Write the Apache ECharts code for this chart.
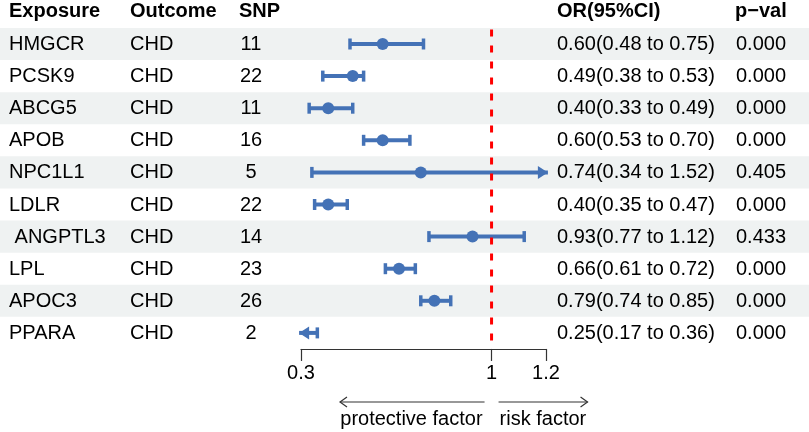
<!DOCTYPE html>
<html>
<head>
<meta charset="utf-8">
<script src="https://cdn.jsdelivr.net/npm/echarts@6/dist/echarts.min.js"></script>
<style>
html,body{margin:0;padding:0;background:#fff;}
#c{width:809px;height:432px;}
</style>
</head>
<body>
<div id="c"></div>
<script>
// ---- data ----
const exposures = ['HMGCR','PCSK9','ABCG5','APOB','NPC1L1','LDLR',' ANGPTL3','LPL','APOC3','PPARA'];
const outcomes  = ['CHD','CHD','CHD','CHD','CHD','CHD','CHD','CHD','CHD','CHD'];
const snps      = [11,22,11,16,5,22,14,23,26,2];
const orEst     = [0.60,0.49,0.40,0.60,0.74,0.40,0.93,0.66,0.79,0.25];
const ciLow     = [0.48,0.38,0.33,0.53,0.34,0.35,0.77,0.61,0.74,0.17];
const ciHigh    = [0.75,0.53,0.49,0.70,1.52,0.47,1.12,0.72,0.85,0.36];
const pvals     = ['0.000','0.000','0.000','0.000','0.405','0.000','0.433','0.000','0.000','0.000'];
const headers   = ['Exposure','Outcome','SNP','OR(95%CI)','p\u2212val'];
const tickVals  = [0.3, 1, 1.2];
const refValue  = 1;

// ---- layout ----
const FONT = "'Liberation Sans', Arial, sans-serif";
const BLUE = '#4472b6';
const AX_MIN = 0.3, AX_MAX = 1.2;
const CLIP_LO = 0.293, CLIP_HI = 1.207;
const GRID_TOP = 27.95, GRID_BOTTOM = 83.05;
const COLS = [ {x: 9, align: 'left'}, {x: 130, align: 'left'}, {x: 251, align: 'center'}, {x: 557, align: 'left'}, {x: 736, align: 'left'} ];
const HEAD_COLS = [ {x: 9}, {x: 130}, {x: 239}, {x: 557}, {x: 735} ];
const n = exposures.length;

const rowIdx = exposures.map((_, i) => [i]);
const forestData = exposures.map((_, i) => [i, orEst[i], ciLow[i], ciHigh[i]]);
const fmt = v => v.toFixed(2);

const chart = echarts.init(document.getElementById('c'), null, {renderer: 'canvas'});

chart.setOption({
  animation: false,
  backgroundColor: '#ffffff',
  grid: [
    {left: 0, right: 0, top: GRID_TOP, bottom: GRID_BOTTOM, show: false},
    {left: 301, right: 263, top: GRID_TOP, bottom: GRID_BOTTOM, show: false}
  ],
  xAxis: [
    {gridIndex: 0, type: 'value', min: 0, max: 809, show: false},
    {gridIndex: 1, type: 'value', min: AX_MIN, max: AX_MAX,
      axisLine: {show: true, onZero: false, lineStyle: {color: '#333333', width: 1.2}},
      axisTick: {show: true, length: 12, customValues: tickVals, lineStyle: {color: '#333333', width: 1.2}},
      axisLabel: {show: true, customValues: tickVals, margin: 15, color: '#000', fontSize: 20, fontFamily: FONT,
        formatter: v => String(v)},
      splitLine: {show: false}}
  ],
  yAxis: [
    {gridIndex: 0, type: 'value', min: -0.5, max: n - 0.5, inverse: true, show: false},
    {gridIndex: 1, type: 'value', min: -0.5, max: n - 0.5, inverse: true, show: false}
  ],
  series: [
    { // row bands
      type: 'custom', xAxisIndex: 0, yAxisIndex: 0, data: rowIdx, clip: false, silent: true, z: 0,
      renderItem(params, api) {
        const i = api.value(0);
        if (i % 2 !== 0) return;
        const p0 = api.coord([0, i - 0.5]);
        const p1 = api.coord([809, i + 0.5]);
        return {type: 'rect', shape: {x: p0[0], y: p0[1], width: p1[0] - p0[0], height: p1[1] - p0[1]},
          style: {fill: '#eff2f2'}};
      }
    },
    { // header
      type: 'custom', xAxisIndex: 0, yAxisIndex: 0, data: [[-1]], clip: false, silent: true, z: 5,
      renderItem(params, api) {
        const i = api.value(0);
        return {type: 'group', children: headers.map((h, k) => {
          const p = api.coord([HEAD_COLS[k].x, i]);
          return {type: 'text', x: p[0], y: p[1], style: {text: h, fill: '#000', fontSize: 20, fontWeight: 'bold',
            fontFamily: FONT, align: 'left', verticalAlign: 'middle'}};
        })};
      }
    },
    { // table text
      type: 'custom', xAxisIndex: 0, yAxisIndex: 0, data: rowIdx, clip: false, silent: true, z: 5,
      renderItem(params, api) {
        const i = api.value(0);
        const texts = [exposures[i], outcomes[i], String(snps[i]),
          fmt(orEst[i]) + '(' + fmt(ciLow[i]) + ' to ' + fmt(ciHigh[i]) + ')', pvals[i]];
        return {type: 'group', children: texts.map((t, k) => {
          const p = api.coord([COLS[k].x, i]);
          return {type: 'text', x: p[0], y: p[1] + 0.5, style: {text: t, fill: '#000', fontSize: 20,
            fontFamily: FONT, align: COLS[k].align, verticalAlign: 'middle'}};
        })};
      }
    },
    { // forest marks
      type: 'custom', xAxisIndex: 1, yAxisIndex: 1, data: forestData, clip: false, silent: true, z: 6,
      encode: {x: [1, 2, 3], y: 0},
      renderItem(params, api) {
        const i = api.value(0), est = api.value(1), l = api.value(2), h = api.value(3);
        const xl = Math.max(l, CLIP_LO), xr = Math.min(h, CLIP_HI);
        const pl = api.coord([xl, i]), pr = api.coord([xr, i]);
        const y = pl[1];
        const kids = [];
        kids.push({type: 'line', shape: {x1: pl[0], y1: y, x2: pr[0], y2: y}, style: {stroke: BLUE, lineWidth: 4}});
        if (l >= CLIP_LO) {
          kids.push({type: 'line', shape: {x1: pl[0], y1: y - 5.5, x2: pl[0], y2: y + 5.5}, style: {stroke: BLUE, lineWidth: 3.5}});
        } else {
          kids.push({type: 'polygon', shape: {points: [[pl[0], y], [pl[0] + 10, y - 6.5], [pl[0] + 10, y + 6.5]]}, style: {fill: BLUE}});
        }
        if (h <= CLIP_HI) {
          kids.push({type: 'line', shape: {x1: pr[0], y1: y - 5.5, x2: pr[0], y2: y + 5.5}, style: {stroke: BLUE, lineWidth: 3.5}});
        } else {
          kids.push({type: 'polygon', shape: {points: [[pr[0], y], [pr[0] - 10, y - 6.5], [pr[0] - 10, y + 6.5]]}, style: {fill: BLUE}});
        }
        if (est >= AX_MIN && est <= AX_MAX) {
          const pe = api.coord([est, i]);
          kids.push({type: 'circle', shape: {cx: pe[0], cy: y, r: 6}, style: {fill: BLUE}});
        }
        return {type: 'group', children: kids};
      }
    },
    { // reference line at OR = 1
      type: 'line', xAxisIndex: 1, yAxisIndex: 1, data: [[refValue, -0.45], [refValue, n - 0.5]],
      showSymbol: false, symbol: 'none', silent: true, z: 10,
      lineStyle: {color: '#ff0000', width: 3, type: [7, 9]}
    }
  ]
});

// annotations under the axis, positioned from the axis scale
const x1 = chart.convertToPixel({xAxisIndex: 1}, refValue);
const xMin = chart.convertToPixel({xAxisIndex: 1}, AX_MIN);
const AY = 402, TY = 419;
const stroke = {stroke: '#333333', lineWidth: 1.2};
chart.setOption({
  graphic: [
    {type: 'line', shape: {x1: x1 - 7, y1: AY, x2: xMin + 39, y2: AY}, style: stroke},
    {type: 'polyline', shape: {points: [[xMin + 46, AY - 5], [xMin + 39, AY], [xMin + 46, AY + 5]]}, style: Object.assign({fill: null}, stroke)},
    {type: 'line', shape: {x1: x1 + 7, y1: AY, x2: x1 + 96, y2: AY}, style: stroke},
    {type: 'polyline', shape: {points: [[x1 + 89, AY - 5], [x1 + 96, AY], [x1 + 89, AY + 5]]}, style: Object.assign({fill: null}, stroke)},
    {type: 'text', x: x1 - 9, y: TY, style: {text: 'protective factor', fill: '#000', fontSize: 20, fontFamily: FONT, align: 'right', verticalAlign: 'middle'}},
    {type: 'text', x: x1 + 8, y: TY, style: {text: 'risk factor', fill: '#000', fontSize: 20, fontFamily: FONT, align: 'left', verticalAlign: 'middle'}}
  ]
});
</script>
</body>
</html>
